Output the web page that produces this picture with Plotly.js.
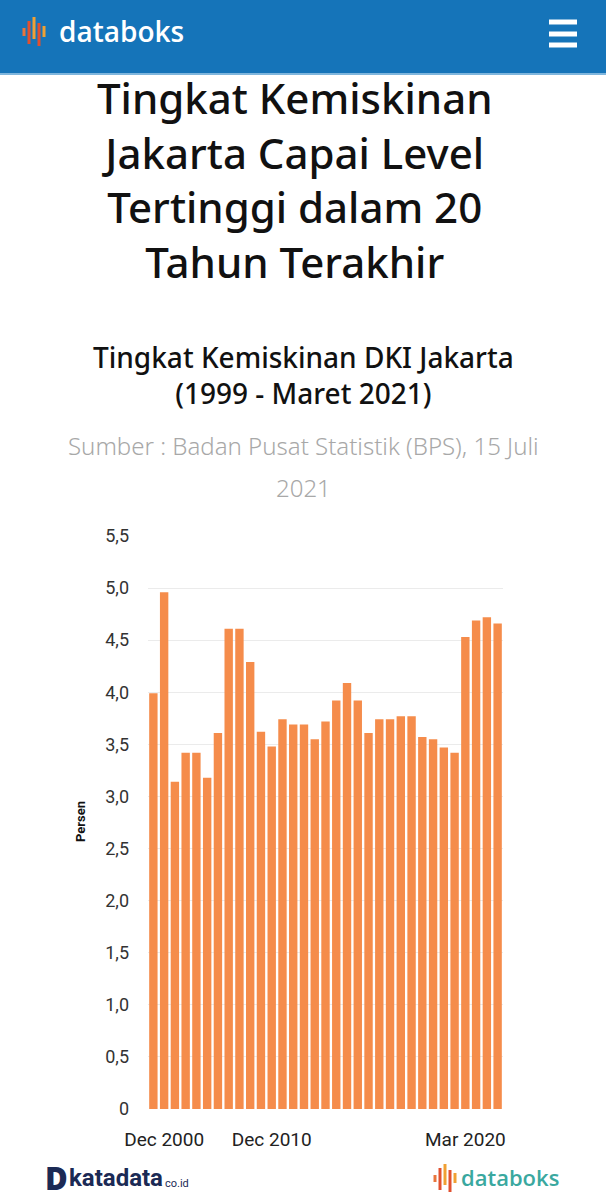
<!DOCTYPE html>
<html>
<head>
<meta charset="utf-8">
<script src="https://cdn.plot.ly/plotly-3.0.1.min.js"></script>
<style>
html,body{margin:0;padding:0;background:#fff;}
#chart{width:606px;height:1200px;}
</style>
</head>
<body>
<div id="chart"></div>
<script>
// ---- data ----
const categories = ["1999","Dec 2000","Dec 2001","Dec 2002","Dec 2003","Dec 2004","Dec 2005","Dec 2006","Dec 2007","Dec 2008","Dec 2009","Dec 2010",
  "Sep 2011","Mar 2012","Sep 2012","Mar 2013","Sep 2013","Mar 2014","Sep 2014","Mar 2015","Sep 2015","Mar 2016","Sep 2016",
  "Mar 2017","Sep 2017","Mar 2018","Sep 2018","Mar 2019","Sep 2019","Mar 2020","Sep 2020","Mar 2021","Sep 2021"];
const values = [3.99,4.96,3.14,3.42,3.42,3.18,3.61,4.61,4.61,4.29,3.62,3.48,
  3.74,3.69,3.69,3.55,3.72,3.92,4.09,3.92,3.61,3.74,3.74,
  3.77,3.77,3.57,3.55,3.47,3.42,4.53,4.69,4.72,4.66];
const xTickLabels = ["Dec 2000","Dec 2010","Mar 2020"];
const yTickVals = [0,0.5,1,1.5,2,2.5,3,3.5,4,4.5,5,5.5];
const yTickText = ["0","0,5","1,0","1,5","2,0","2,5","3,0","3,5","4,0","4,5","5,0","5,5"];
const titleLines = ["Tingkat Kemiskinan","Jakarta Capai Level","Tertinggi dalam 20","Tahun Terakhir"];
const subtitleLines = ["Tingkat Kemiskinan DKI Jakarta","(1999 - Maret 2021)"];
const sourceLines = ["Sumber : Badan Pusat Statistik (BPS), 15 Juli","2021"];

// ---- layout helpers (pixel -> paper) ----
const L = 148, R = 503, T = 536, B = 1109;
const W = 606, H = 1200;
const px = x => (x - L) / (R - L);
const py = y => (B - y) / (B - T);

const FONT = "'Noto Sans', 'Open Sans', sans-serif";

const shapes = [
  {type:"rect", xref:"paper", yref:"paper", x0:px(0), x1:px(W), y0:py(73), y1:py(0), fillcolor:"#1574b9", line:{width:0}, layer:"below"},
  {type:"rect", xref:"paper", yref:"paper", x0:px(0), x1:px(W), y0:py(75), y1:py(73), fillcolor:"#7fb6dd", line:{width:0}, layer:"below"},
];
[22,34,45].forEach(y => shapes.push({type:"line", xref:"paper", yref:"paper", x0:px(549), x1:px(577), y0:py(y), y1:py(y), line:{color:"#ffffff", width:5}}));

function logoIcon(x0, yTop, yBase){
  const bars = [
    {dx:0, top:yTop+9, bot:yBase-8, c:"#e8753c"},
    {dx:5, top:yTop+2, bot:yBase, c:"#e1502f"},
    {dx:10, top:yTop-2, bot:yBase-5, c:"#f0a033"},
    {dx:15, top:yTop+4, bot:yBase+2, c:"#e1502f"},
    {dx:20, top:yTop+7, bot:yBase-7, c:"#f0a033"},
  ];
  bars.forEach(b => shapes.push({type:"line", xref:"paper", yref:"paper", x0:px(x0+b.dx), x1:px(x0+b.dx), y0:py(b.top), y1:py(b.bot), line:{color:b.c, width:3}}));
}
logoIcon(24, 19, 44);
logoIcon(435, 1166, 1190);

const annotations = [
  {text:"databoks", x:px(57), y:py(31), xanchor:"left", yanchor:"middle", font:{family:"'Open Sans', sans-serif", size:28, color:"#ffffff", weight:600}},
  {text:"Persen", x:px(80), y:py(822), xanchor:"center", yanchor:"middle", textangle:-90, font:{family:"Roboto, sans-serif", size:13, color:"#111111", weight:700}},
  {text:"D", x:px(43), y:py(1178), xanchor:"left", yanchor:"middle", font:{family:"'Open Sans', sans-serif", size:31, color:"#1b2a55", weight:800}},
  {text:"katadata", x:px(67), y:py(1178), xanchor:"left", yanchor:"middle", font:{family:"Roboto, sans-serif", size:24, color:"#1b2a55", weight:700}},
  {text:"co.id", x:px(163), y:py(1183), xanchor:"left", yanchor:"middle", font:{family:"Roboto, sans-serif", size:11, color:"#1b2a55"}},
  {text:"databoks", x:px(459), y:py(1177), xanchor:"left", yanchor:"middle", font:{family:"'Open Sans', sans-serif", size:22, color:"#3aa89f", weight:600}},
  {text:titleLines.join("<br>"), x:px(295), y:py(180), xanchor:"center", yanchor:"middle", font:{family:FONT, size:42, color:"#111111", weight:500}},
  {text:subtitleLines.join("<br>"), x:px(303), y:py(375), xanchor:"center", yanchor:"middle", font:{family:FONT, size:28, color:"#111111", weight:500}},
];
[445,488].forEach((y,i) => annotations.push({text:sourceLines[i], x:px(303), y:py(y), xanchor:"center", yanchor:"middle", font:{family:FONT, size:24, color:"#a8a8a8", weight:300}}));
annotations.forEach(a => { a.xref = "paper"; a.yref = "paper"; a.showarrow = false; });

const trace = {
  type:"bar",
  x: categories,
  y: values,
  marker:{color:"#f58c4b"},
  hoverinfo:"x+y"
};

const layout = {
  width: W, height: H,
  margin:{l:L, r:W-R, t:T, b:H-B, pad:0},
  paper_bgcolor:"#ffffff",
  plot_bgcolor:"#ffffff",
  showlegend:false,
  bargap:0.22,
  xaxis:{
    type:"category",
    tickmode:"array",
    tickvals: xTickLabels,
    ticktext: xTickLabels,
    showgrid:false, zeroline:false, showline:false, ticks:"",
    tickfont:{family:"Roboto, sans-serif", size:19, color:"#222222"},
    ticklabelstandoff: 17
  },
  yaxis:{
    range:[0,5.5],
    tickmode:"array",
    tickvals: yTickVals,
    ticktext: yTickText,
    showgrid:true, gridcolor:"#ebebeb", gridwidth:1,
    zeroline:false, showline:false, ticks:"",
    tickfont:{family:"Roboto, sans-serif", size:18, color:"#333333"},
    ticklabelstandoff: 18
  },
  shapes: shapes,
  annotations: annotations
};

Plotly.newPlot("chart", [trace], layout, {displayModeBar:false, staticPlot:true});
</script>
</body>
</html>
